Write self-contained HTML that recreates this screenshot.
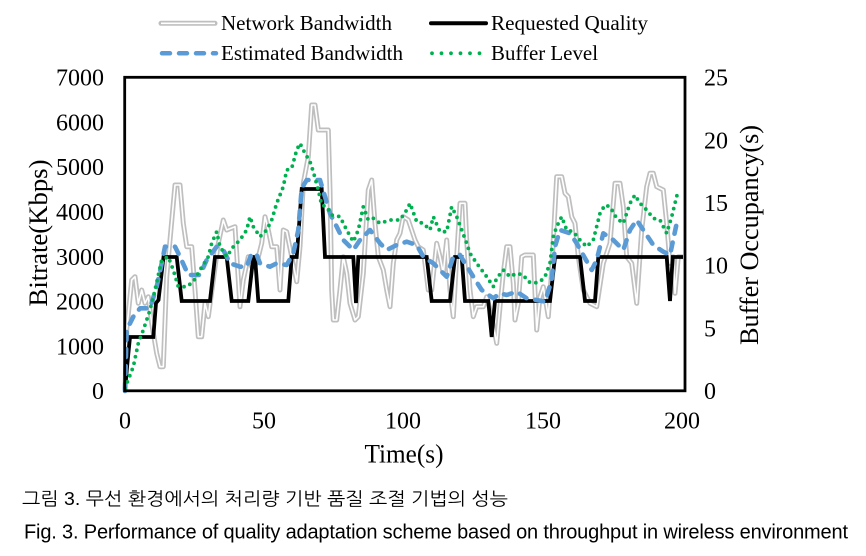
<!DOCTYPE html>
<html>
<head>
<meta charset="utf-8">
<style>
  html, body { margin: 0; padding: 0; background: #ffffff; }
  body { width: 866px; height: 556px; overflow: hidden; }
  svg { display: block; }
  .tk { font-family: "Liberation Serif", serif; font-size: 24px; fill: #000; }
  .lg { font-family: "Liberation Serif", serif; font-size: 21px; fill: #000; }
  .ax { font-family: "Liberation Serif", serif; font-size: 26px; fill: #000; }
</style>
</head>
<body>
<svg width="866" height="556" viewBox="0 0 866 556" xmlns="http://www.w3.org/2000/svg">
  <rect x="0" y="0" width="866" height="556" fill="#ffffff"/>

  <!-- Legend -->
  <line x1="161" y1="23.3" x2="215" y2="23.3" stroke="#bfbfbf" stroke-width="5" stroke-linecap="round"/>
  <line x1="161" y1="23.3" x2="215" y2="23.3" stroke="#ffffff" stroke-width="1.6"/>
  <text class="lg" x="221" y="30" textLength="171" lengthAdjust="spacingAndGlyphs">Network Bandwidth</text>
  <line x1="431" y1="23.3" x2="486" y2="23.3" stroke="#000" stroke-width="4" stroke-linecap="round"/>
  <text class="lg" x="491" y="30" textLength="157" lengthAdjust="spacingAndGlyphs">Requested Quality</text>
  <line x1="162" y1="53.3" x2="216" y2="53.3" stroke="#5b9bd5" stroke-width="4.5" stroke-linecap="round" stroke-dasharray="8 9"/>
  <text class="lg" x="221" y="60" textLength="182" lengthAdjust="spacingAndGlyphs">Estimated Bandwidth</text>
  <line x1="432" y1="53.3" x2="486" y2="53.3" stroke="#00b050" stroke-width="3.8" stroke-linecap="round" stroke-dasharray="0 9.5"/>
  <text class="lg" x="491" y="60" textLength="107" lengthAdjust="spacingAndGlyphs">Buffer Level</text>

  <!-- Left tick labels -->
  <g class="tk" text-anchor="end">
    <text x="104" y="85.6">7000</text>
    <text x="104" y="130.4">6000</text>
    <text x="104" y="175.2">5000</text>
    <text x="104" y="220">4000</text>
    <text x="104" y="264.8">3000</text>
    <text x="104" y="309.6">2000</text>
    <text x="104" y="354.4">1000</text>
    <text x="104" y="399.2">0</text>
  </g>
  <!-- Right tick labels -->
  <g class="tk" text-anchor="start">
    <text x="704" y="85.6">25</text>
    <text x="704" y="148.3">20</text>
    <text x="704" y="211">15</text>
    <text x="704" y="273.7">10</text>
    <text x="704" y="336.4">5</text>
    <text x="704" y="399.2">0</text>
  </g>
  <!-- Bottom tick labels -->
  <g class="tk" text-anchor="middle">
    <text x="125" y="428.3">0</text>
    <text x="264" y="428.3">50</text>
    <text x="403" y="428.3">100</text>
    <text x="543" y="428.3">150</text>
    <text x="682" y="428.3">200</text>
  </g>

  <!-- Axis titles -->
  <text class="ax" x="404" y="462.5" text-anchor="middle" textLength="79" lengthAdjust="spacingAndGlyphs">Time(s)</text>
  <text class="ax" transform="translate(47,233) rotate(-90)" x="0" y="0" text-anchor="middle" textLength="147" lengthAdjust="spacingAndGlyphs">Bitrate(Kbps)</text>
  <text class="ax" transform="translate(758,235) rotate(-90)" x="0" y="0" text-anchor="middle" textLength="220" lengthAdjust="spacingAndGlyphs">Buffer Occupancy(s)</text>

  <!-- Network Bandwidth (double gray line) -->
  <g fill="none" stroke-linejoin="round">
    <polyline id="nb" stroke="#bfbfbf" stroke-width="5" points="125,390 126.7,330 131.7,280 135,276.7 138.3,303.3 141.7,290 145,303.3 148.3,296.7 151.7,323.3 156.7,353.3 160,366.7 163.3,366.7 166.7,276.7 170,240 175,185 180,185 183.3,223.3 186.7,246.7 191.7,246.7 195,290 198.3,336.7 201.7,336.7 205,303.3 208.3,316.7 213.3,280 218.3,243.3 223.3,220 226.7,230 235,226.7 240,306.7 243.3,280 248.3,256.7 251.7,266.7 256.7,263.3 261.7,243.3 265,216.7 268.3,230 271.7,246.7 276.7,246.7 280,290 283.3,230 286.7,231.7 291.7,256.7 296.7,281.7 300,246.7 303.3,183.3 308.3,156.7 311.7,105 315,105 318.3,130 328.3,130 330,190 331.7,290 333.3,320 336.7,320 340,290 343.3,256.7 346.7,273.3 350,303.3 355,320 358.3,316.7 363.3,273.3 368.3,190 371.7,180 375,223.3 378.3,256.7 383.3,270 386.7,290 390,306.7 393.3,263.3 396.7,240 400,233.3 403.3,216.7 408.3,220 415,240 418.3,246.7 423.3,250 428.3,290 431.7,290 436.7,243.3 440,256.7 443.3,273.3 446.7,240 450,290 453.3,316.7 456.7,256.7 460,203.3 465,203.3 466.7,240 470,290 473.3,316.7 476.7,306.7 483.3,306.7 486.7,296.7 491.7,316.7 496.7,343.3 500,306.7 503.3,273.3 506.7,246.7 510,246.7 513.3,283.3 515,320 518.3,303.3 521.7,256.7 525,255 533.3,255 536.7,330 540,296.7 543.3,286.7 548.3,316.7 551.7,270 556.7,176.7 561.7,176.7 565,193.3 568.3,196.7 571.7,216.7 575,223.3 578.3,256.7 583.3,290 590,303.3 596.7,306.7 603.3,263.3 610,243.3 615,183.3 620,183.3 623.3,206.7 626.7,256.7 631.7,263.3 636.7,303.3 641.7,230 646.7,186.7 650,173.3 653.3,173.3 656.7,186.7 663.3,190 666.7,223.3 670,263.3 673.3,256.7 675,293.3 678.3,256.7 683,256.7"/>
    <polyline stroke="#ffffff" stroke-width="1.6" points="125,390 126.7,330 131.7,280 135,276.7 138.3,303.3 141.7,290 145,303.3 148.3,296.7 151.7,323.3 156.7,353.3 160,366.7 163.3,366.7 166.7,276.7 170,240 175,185 180,185 183.3,223.3 186.7,246.7 191.7,246.7 195,290 198.3,336.7 201.7,336.7 205,303.3 208.3,316.7 213.3,280 218.3,243.3 223.3,220 226.7,230 235,226.7 240,306.7 243.3,280 248.3,256.7 251.7,266.7 256.7,263.3 261.7,243.3 265,216.7 268.3,230 271.7,246.7 276.7,246.7 280,290 283.3,230 286.7,231.7 291.7,256.7 296.7,281.7 300,246.7 303.3,183.3 308.3,156.7 311.7,105 315,105 318.3,130 328.3,130 330,190 331.7,290 333.3,320 336.7,320 340,290 343.3,256.7 346.7,273.3 350,303.3 355,320 358.3,316.7 363.3,273.3 368.3,190 371.7,180 375,223.3 378.3,256.7 383.3,270 386.7,290 390,306.7 393.3,263.3 396.7,240 400,233.3 403.3,216.7 408.3,220 415,240 418.3,246.7 423.3,250 428.3,290 431.7,290 436.7,243.3 440,256.7 443.3,273.3 446.7,240 450,290 453.3,316.7 456.7,256.7 460,203.3 465,203.3 466.7,240 470,290 473.3,316.7 476.7,306.7 483.3,306.7 486.7,296.7 491.7,316.7 496.7,343.3 500,306.7 503.3,273.3 506.7,246.7 510,246.7 513.3,283.3 515,320 518.3,303.3 521.7,256.7 525,255 533.3,255 536.7,330 540,296.7 543.3,286.7 548.3,316.7 551.7,270 556.7,176.7 561.7,176.7 565,193.3 568.3,196.7 571.7,216.7 575,223.3 578.3,256.7 583.3,290 590,303.3 596.7,306.7 603.3,263.3 610,243.3 615,183.3 620,183.3 623.3,206.7 626.7,256.7 631.7,263.3 636.7,303.3 641.7,230 646.7,186.7 650,173.3 653.3,173.3 656.7,186.7 663.3,190 666.7,223.3 670,263.3 673.3,256.7 675,293.3 678.3,256.7 683,256.7"/>
  </g>

  <!-- Requested Quality -->
  <polyline fill="none" stroke="#000" stroke-width="3.8" stroke-linejoin="miter" stroke-miterlimit="6"
    points="125,390 127.5,362 130,337 153.3,337 156,303 158.5,300 163.5,257 176.7,257 181.7,301 210,301 215,257 226.7,257 231.7,301 248.3,301 253.3,257 255,257 258.3,301 288.3,301 291.7,257 296.7,257 301.7,189 321.7,189 325,257 353.3,257 356,303 358.3,257 426.7,257 431.7,301 450,301 455,257 461.7,257 465,301 488.3,301 491.7,337 495,301 550,301 555,257 580,257 585,301 595,301 598.3,257 666.7,257 670,301 672.7,257 683,257"/>

  <!-- Estimated Bandwidth -->
  <polyline fill="none" stroke="#5b9bd5" stroke-width="4.6" stroke-linecap="round" stroke-linejoin="round" stroke-dasharray="8 9"
    points="125,391 126.7,330 133.3,316.7 140,308.3 150,308.3 156.7,286.7 161.7,263.3 165,246.7 175,246.7 180,256.7 188.3,275 200,275 206.7,260 216.7,246.7 223.3,250 230,263.3 240,266.7 246.7,266.7 251.7,253.3 256.7,255 260,263.3 270,266.7 276.7,263.3 286.7,265 293.3,253.3 298.3,230 301.7,188.3 306.7,180 320,180 325,196.7 330,213.3 336.7,226.7 343.3,240 353.3,250 360,240 370,230 380,243.3 386.7,250 396.7,245 406.7,241.7 416.7,245 423.3,256.7 433.3,263.3 446.7,276.7 453.3,256.7 460,255 465,263.3 473.3,276.7 481.7,290 493.3,298.3 500,293.3 506.7,295 516.7,291.7 526.7,298.3 536.7,300 545,301.7 551.7,280 555,246.7 560,230 570,233.3 576.7,243.3 585,258.3 591.7,270 596.7,260 603.3,233.3 613.3,240 623.3,250 630,230 636.7,220 643.3,230 653.3,245 663.3,251.7 670,255 676.7,223.3 681.7,221.7"/>

  <!-- Buffer Level -->
  <polyline fill="none" stroke="#00b050" stroke-width="3.8" stroke-linecap="round" stroke-linejoin="round" stroke-dasharray="0 6.6"
    points="125,388 133.3,366.7 138.3,343.3 143.3,330 150,310 155,290 161.7,260 168.3,256.7 173.3,270 178.3,286.7 186.7,286.7 193.3,281.7 200,270 208.3,256.7 211.7,243.3 216.7,231.7 220,246.7 226.7,256.7 233.3,246.7 240,240 246.7,230 250,216.7 253.3,226.7 260,236.7 266.7,230 271.7,220 276.7,203.3 283.3,186.7 286.7,170 291.7,168.3 296.7,150 300,143.3 305,153.3 310,161.7 313.3,171.7 318.3,190 321.7,205 326.7,206.7 331.7,215 340,216.7 346.7,230 353.3,241.7 358.3,230 363.3,206.7 368.3,220 373.3,218.3 380,223.3 390,220 400,220 406.7,210 410,203.3 416.7,221.7 423.3,223.3 430,230 433.3,216.7 440,231.7 446.7,231.7 451.7,206.7 456.7,216.7 461.7,230 466.7,243.3 470,253.3 476.7,263.3 486.7,276.7 493.3,286.7 496.7,278.3 503.3,270 510,276.7 516.7,273.3 523.3,275 528.3,281.7 533.3,283.3 540,281.7 545,276.7 550,263.3 553.3,236.7 556.7,226.7 561.7,216.7 566.7,230 573.3,231.7 580,240 586.7,246.7 593.3,240 600,213.3 605,205 610,206.7 616.7,218.3 623.3,223.3 630,203.3 635,195 640,203.3 646.7,210 653.3,218.3 660,220 666.7,233.3 671.7,216.7 675,203.3 678.3,190"/>

  <!-- Plot border -->
  <rect x="124.7" y="77.3" width="560.3" height="313.5" fill="none" stroke="#000" stroke-width="2.8"/>

  <!-- Caption -->
  <text x="22" y="505" font-family="'Liberation Sans', 'NanumGothic', 'Noto Sans CJK KR', sans-serif" font-size="18" fill="#000" textLength="486" lengthAdjust="spacingAndGlyphs">그림 3. 무선 환경에서의 처리량 기반 품질 조절 기법의 성능</text>
  <text x="24" y="538.5" font-family="'Liberation Sans', sans-serif" font-size="20" fill="#000" textLength="824" lengthAdjust="spacing">Fig. 3. Performance of quality adaptation scheme based on throughput in wireless environment</text>
</svg>
</body>
</html>
